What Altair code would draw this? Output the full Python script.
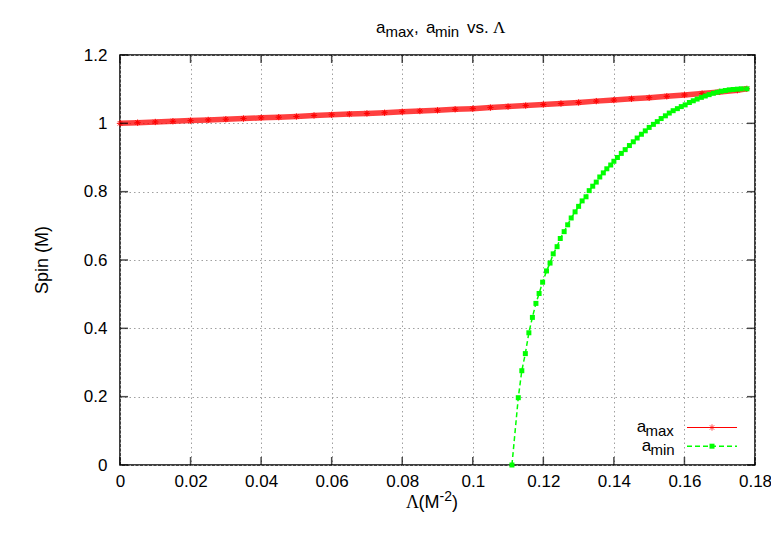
import altair as alt
import pandas as pd

# ---------------- data ----------------
lam_max = [0.000, 0.005, 0.010, 0.015, 0.020, 0.025, 0.030, 0.035, 0.040, 0.045,
           0.050, 0.055, 0.060, 0.065, 0.070, 0.075, 0.080, 0.085, 0.090, 0.095,
           0.100, 0.105, 0.110, 0.115, 0.120, 0.125, 0.130, 0.135, 0.140, 0.145,
           0.150, 0.155, 0.160, 0.165, 0.170, 0.175, 0.1777]
a_max = [1.000, 1.002, 1.004, 1.006, 1.008, 1.010, 1.012, 1.014, 1.016, 1.018,
         1.020, 1.023, 1.025, 1.027, 1.029, 1.031, 1.034, 1.036, 1.038, 1.041,
         1.043, 1.046, 1.049, 1.052, 1.055, 1.058, 1.061, 1.065, 1.068, 1.072,
         1.075, 1.079, 1.083, 1.087, 1.092, 1.097, 1.101]

lam_min = [0.1111, 0.1129, 0.1139, 0.1149, 0.1159, 0.1169, 0.1179, 0.1188, 0.1198,
           0.1209, 0.1219, 0.1228, 0.1239, 0.1248, 0.1259, 0.1269, 0.1279, 0.1290,
           0.1300, 0.1310, 0.1321, 0.1330, 0.1340, 0.1350, 0.1360, 0.1370, 0.1380,
           0.1391, 0.1400, 0.1410, 0.1421, 0.1432, 0.1444, 0.1455, 0.1466, 0.1478,
           0.1489, 0.1500, 0.1512, 0.1523, 0.1534, 0.1546, 0.1557, 0.1568, 0.1580,
           0.1591, 0.1602, 0.1614, 0.1625, 0.1636, 0.1648, 0.1659, 0.1670, 0.1682,
           0.1693, 0.1704, 0.1716, 0.1727, 0.1738, 0.1750, 0.1761, 0.1777]
a_min = [0.000, 0.197, 0.276, 0.326, 0.387, 0.432, 0.473, 0.502, 0.535,
         0.568, 0.591, 0.618, 0.639, 0.663, 0.683, 0.703, 0.723, 0.741,
         0.757, 0.773, 0.785, 0.803, 0.816, 0.828, 0.843, 0.855, 0.867,
         0.878, 0.889, 0.900, 0.912, 0.923, 0.935, 0.946, 0.957, 0.968,
         0.978, 0.988, 0.997, 1.005, 1.014, 1.022, 1.030, 1.037, 1.043,
         1.049, 1.054, 1.061, 1.066, 1.071, 1.076, 1.080, 1.084, 1.088,
         1.091, 1.094, 1.096, 1.098, 1.099, 1.100, 1.101, 1.101]

x_ticks = [0, 0.02, 0.04, 0.06, 0.08, 0.1, 0.12, 0.14, 0.16, 0.18]
y_ticks = [0, 0.2, 0.4, 0.6, 0.8, 1, 1.2]

# ---------------- layout ----------------
W, H = 635, 410
FONT = "Liberation Sans"
SERIF = "Liberation Serif"
FS = 17
SUB = 15
RED = "#ff0000"
GREEN = "#00ff00"
STAR = "M-1,0L1,0M0,-1L0,1M-0.7,-0.7L0.7,0.7M-0.7,0.7L0.7,-0.7"

df_max = pd.DataFrame({"lam": lam_max, "a": a_max})
df_min = pd.DataFrame({"lam": lam_min, "a": a_min})
df_xt = pd.DataFrame({"lam": x_ticks})
df_yt = pd.DataFrame({"a": y_ticks})

xs = alt.Scale(domain=[0, 0.18], nice=False, zero=False)
ys = alt.Scale(domain=[0, 1.2], nice=False, zero=False)

x_axis = alt.Axis(values=x_ticks, format="~g", title=None, grid=True, ticks=False,
                  domain=False, labelPadding=8, labelFlush=False)
y_axis = alt.Axis(values=y_ticks, format="~g", title=None, grid=True, ticks=False,
                  domain=False, labelPadding=13)

X = alt.X("lam:Q", scale=xs, axis=x_axis)
Y = alt.Y("a:Q", scale=ys, axis=y_axis)

red_line = alt.Chart(df_max).mark_line(color=RED, strokeWidth=5.5, opacity=0.75).encode(x=X, y=Y)
red_pts = alt.Chart(df_max).mark_point(shape=STAR, size=40, color=RED, strokeWidth=1,
                                        filled=False, opacity=1).encode(x=X, y=Y)

green_line = alt.Chart(df_min).mark_line(color=GREEN, strokeWidth=1.5,
                                         strokeDash=[5, 3]).encode(x=X, y=Y)
green_pts = alt.Chart(df_min).mark_square(size=25, color=GREEN, opacity=1).encode(x=X, y=Y)

# inner (gnuplot-style) tick marks on all four sides
tk = dict(color="black", thickness=1.5, size=8)
xt_bot = alt.Chart(df_xt).mark_tick(**tk).encode(x=X, y=alt.value(H - 4))
xt_top = alt.Chart(df_xt).mark_tick(**tk).encode(x=X, y=alt.value(4))
yt_left = alt.Chart(df_yt).mark_tick(**tk).encode(y=Y, x=alt.value(4))
yt_right = alt.Chart(df_yt).mark_tick(**tk).encode(y=Y, x=alt.value(W - 4))


def txt(s, x, y, size=FS, font=FONT, align="left", baseline="alphabetic", angle=0):
    return alt.Chart(pd.DataFrame({"t": [s]})).mark_text(
        font=font, fontSize=size, align=align, baseline=baseline, angle=angle,
        color="black").encode(text="t:N", x=alt.value(x), y=alt.value(y))


# title: a_max, a_min vs. Λ
title = [
    txt("a", 256, -22), txt("max", 265.5, -18, SUB), txt(",", 294, -22),
    txt("a", 306, -22), txt("min", 315, -18, SUB), txt("vs.", 347, -22),
    txt("Λ", 373, -22, FS, SERIF),
]
# axis titles
xtitle = [
    txt("Λ", 286, 453, 18, SERIF), txt("(M", 298.5, 453, 18),
    txt("-2", 319.5, 446, 14), txt(")", 332, 453, 18),
]
ytitle = [txt("Spin (M)", -77.5, 205, 18, FONT, "center", "middle", 270)]

# legend
one = pd.DataFrame({"k": [0]})
leg = [
    txt("a", 516.7, 377), txt("max", 525.5, 381, SUB),
    txt("a", 521.7, 396), txt("min", 530.5, 400, SUB),
    alt.Chart(one).mark_rule(color=RED, strokeWidth=1).encode(
        x=alt.value(567), x2=alt.value(617), y=alt.value(372.5)),
    alt.Chart(one).mark_point(shape=STAR, size=40, color=RED,
                              strokeWidth=1, filled=False).encode(
        x=alt.value(592), y=alt.value(372.5)),
    alt.Chart(one).mark_rule(color=GREEN, strokeWidth=1.5, strokeDash=[5, 3]).encode(
        x=alt.value(567), x2=alt.value(617), y=alt.value(391.2)),
    alt.Chart(one).mark_square(size=25, color=GREEN, opacity=1).encode(
        x=alt.value(592), y=alt.value(391.2)),
]

chart = alt.layer(
    red_line, red_pts, green_line, green_pts,
    xt_bot, xt_top, yt_left, yt_right,
    *title, *xtitle, *ytitle, *leg,
).properties(
    width=W, height=H,
    autosize=alt.AutoSizeParams(type="none"),
    padding={"left": 112, "top": 47, "right": 16, "bottom": 55},
).configure_view(
    stroke="black", strokeWidth=1.5,
).configure_axis(
    labelFont=FONT, labelFontSize=FS, labelColor="black",
    gridColor="#a0a0a0", gridDash=[1.5, 3], gridWidth=1,
)

chart.save("out.html", embed_options={"renderer": "svg", "actions": False})
